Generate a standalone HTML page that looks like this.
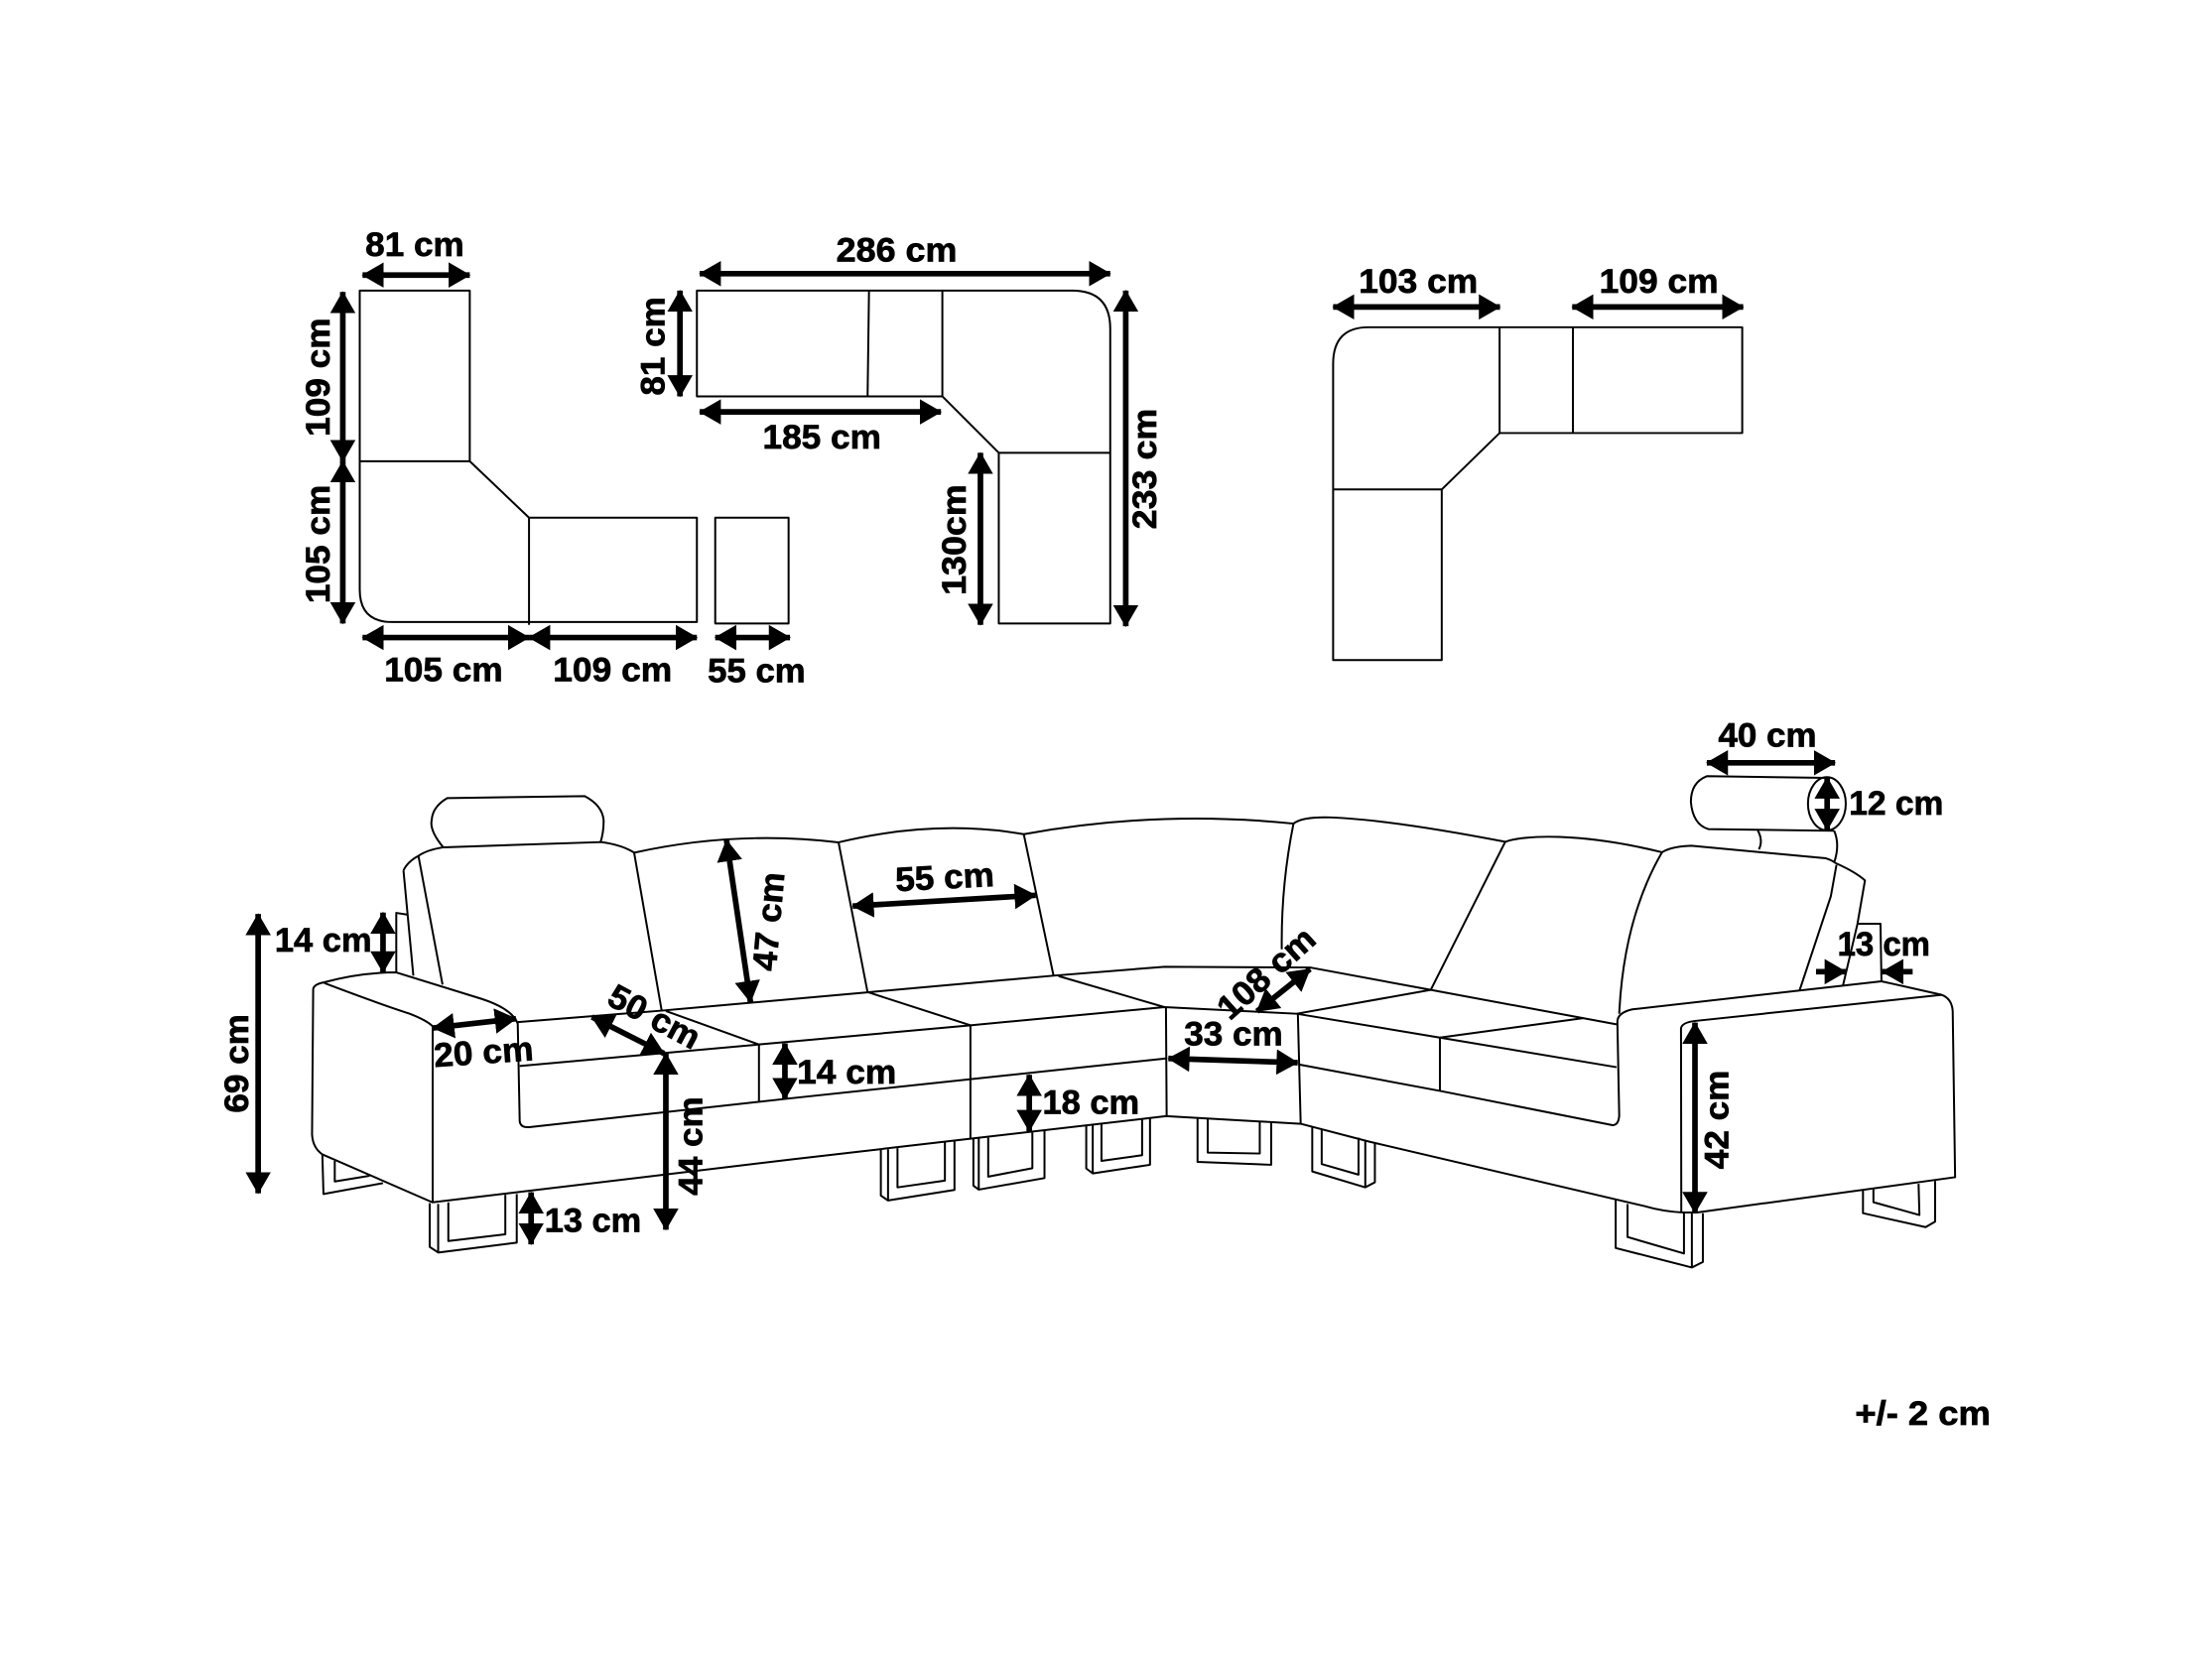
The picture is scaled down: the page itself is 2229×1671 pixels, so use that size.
<!DOCTYPE html>
<html><head><meta charset="utf-8"><style>
html,body{margin:0;padding:0;background:#fff}
svg{display:block}
.l path,.l polyline,.l line,.l ellipse{fill:none;stroke:#000;stroke-width:1.4;stroke-linejoin:round}
.a line{stroke:#000;stroke-width:4;marker-start:url(#h);marker-end:url(#h)}
.a line.o{marker-start:none}
text{font-family:"Liberation Sans",sans-serif;font-weight:bold;font-size:24px;fill:#000;stroke:#000;stroke-width:.5}
</style></head><body>
<svg xmlns="http://www.w3.org/2000/svg" width="2229" height="1671" viewBox="0 0 1568 1175.45">
<defs><marker id="h" markerUnits="userSpaceOnUse" markerWidth="17" markerHeight="19" refX="15" refY="9.5" orient="auto-start-reverse"><path d="M0,0.5 L15.6,9.5 L0,18.5 Z" fill="#000"/></marker></defs>
<rect width="1568" height="1176" fill="#fff"/>
<g class="l">
<!-- plan 1 -->
<path d="M255,206 H333 V327 L375,367 H494 V441 H278 Q255,441 255,418 Z"/>
<path d="M255,327 H333 M375,367 V443"/>
<path d="M507,367 H559 V442 H507 Z"/>
<!-- plan 2 -->
<path d="M494,206 H760 Q787,206 787,233 V442 H708 V321 L668,281 H494 Z"/>
<path d="M616,206 L615,281 M668,206 V281 M708,321 H787"/>
<!-- plan 3 -->
<path d="M945,468 V258 Q945,232 970,232 H1235 V307 H1063 L1022,347 V468 Z"/>
<path d="M945,347 H1022 M1063,232 V307 M1115,232 V307"/>
<!-- left headrest -->
<path d="M314.2,600.7 C307,592 305,586 306,581.5 Q306.5,572 317,565.8 L414.5,564.4 Q427,571 427.9,581.5 Q428,590 425.6,597.4"/>
<!-- backs -->
<path d="M286,617.1 Q289,610.8 296.6,606.8 Q302.5,602.6 314.2,600.7 L426.3,597 Q441,599 449.5,604.5"/>
<path d="M286,617.1 L293,691.7 M296.6,606.8 L313.7,698 M449.5,604.5 L469,716.3"/>
<path d="M280.9,689.4 V647.2 L288.5,648.4"/>
<path d="M449.5,604.5 Q522,588.5 594.4,597.2 Q663.4,580.6 725.7,591.4 L746.8,691.7"/>
<path d="M594.4,597.2 L615,703.5"/>
<path d="M725.7,591.4 Q821,574 916.9,583.9 Q908,628 908.6,673"/>
<path d="M916.9,583.9 Q923,579 942.6,579.5 Q985,581 1067,596.8 C1080,592 1120,590 1178.2,604.2"/>
<path d="M1067,596.8 L1014.2,701.8"/>
<path d="M1178.2,604.2 Q1185,600 1199,599.6 L1294.3,608.5 Q1298,609.5 1301.4,612 Q1315.5,618.3 1322,624.2 L1316.6,655.4 L1306.5,698.3"/>
<path d="M1301.8,613.2 L1297.8,635.4 L1275.6,702.3"/>
<path d="M1178.2,604.2 Q1151,651 1147.8,718.7"/>
<path d="M1317.3,654.9 H1333 L1333.7,695.7"/>
<!-- right headrest -->
<path d="M1295.5,551.5 L1209.9,550.3 Q1198.6,554.6 1198.6,568.6 Q1200,584.5 1211,587.8 L1300.2,589"/>
<ellipse cx="1295" cy="569.8" rx="13.4" ry="18.8"/>
<path d="M1246,588.7 Q1250,596 1246.8,602.2 M1300.2,589 Q1304.4,599 1300.2,611.3"/>
<!-- left arm -->
<path d="M222,701 Q223,697.6 229.8,696.4 Q255.4,689.4 280.9,689.4 L341.5,708.2 Q363,715.2 367,725.7 L368.4,795 Q369,799.6 375.2,799.1 L562.7,778.4 L826.6,750.4"/>
<path d="M222,701 L221.2,804.3 Q221.7,813.7 228.5,818.4 L306.5,852.4 L562.7,821.8 L687.9,807.3 L826.5,791.3 L922,796.7 L970.7,809.4 L1165.4,855 Q1179,859 1193.2,859.6 H1202.9 L1385.9,834.6 L1384.2,717 Q1383.7,708 1376.4,705.3 L1333.7,695.7 L1157.1,715.6 Q1146.5,718 1146.5,724.5 L1147.8,791 Q1147.3,797.7 1143.1,797.7 L1020.7,773.4 L920.4,754.6"/>
<path d="M229.8,696.9 Q268.8,711.7 290.4,718.7 Q302.5,723.4 306.7,727.6 V852.4"/>
<!-- seats -->
<path d="M367,724.6 L469,716.5 L615,703.5 L746.8,691.7 L825.4,685.4 L928.6,685.9 L1014.2,701.8 L1145.9,726.2"/>
<path d="M472,716.8 L538,740.5 M368.4,755.8 L538,740.5 L687.9,726.9 L825.4,714 L919.2,718.7 L1020.7,735.6 L1145.9,756.6"/>
<path d="M615.2,703.4 L687.9,726.9 M750.4,692 L825.4,714"/>
<path d="M538,740.5 V780.9 M687.9,727 V807.3 M826.5,714.2 L827,791.3 M920,718.6 L922,796.7 M1020.7,735.6 V773.4"/>
<path d="M919.2,718.7 L1014.2,701.8 M1020.7,735.6 L1122.3,721.8"/>
<!-- right arm front -->
<path d="M1376.4,705.3 L1201.7,723.8 Q1192,724.9 1191.6,729.2 L1191.8,859.6"/>
<!-- legs -->
<path d="M304.6,853 V884 L310.6,888 L366.3,881 V846.5 M310.6,853.5 V888 M317.8,852.4 V879.8 L358.2,875.1 V847"/>
<path d="M228.5,818.4 L229.3,846.5 L271.5,838.8 M237.3,823 V837.6 L262,833.6"/>
<path d="M624.4,815 V847.6 L629.5,851.1 L676.6,843.6 V808.9 M629.5,814.8 V851.1 M636.2,814 V841.8 L669.8,837 V810"/>
<path d="M690,807 V840.6 L693.8,843.4 L740.4,835.2 V801.9 M693.8,807 V843.4 M700.5,806.6 V834.2 L731.8,828.2 V803"/>
<path d="M770,797.7 V828.4 L774.6,831.9 L815.2,825.8 V793 M774.6,797.2 V831.9 M780.8,796.5 V823 L809.6,819 V793.7"/>
<path d="M848.9,792.5 V823.7 L901.1,825.8 V795.3 M856.1,793 V817.1 L893,817.8 V794.9"/>
<path d="M930.2,798.8 V830.5 L967.8,841.8 L974.6,838.2 V810 M967.8,808.9 V841.8 M936.9,800.7 V825.3 L963,832.8 V806.6"/>
<path d="M1145.3,850.2 V884.8 L1199.3,898.6 L1207.1,894.7 V860.1 M1199.3,860.1 V898.6 M1153.7,853.6 V877 L1193.7,888.7 V859.6"/>
<path d="M1320.6,843.2 V860.1 L1365,870 L1371.7,866.1 V837.2 M1328,843.2 V852.3 L1360.6,861.4 L1360,839.3"/>
</g>
<g class="a">
<line x1="257" y1="195" x2="333" y2="195"/>
<line x1="243" y1="207" x2="243" y2="327"/>
<line x1="243" y1="327" x2="243" y2="442"/>
<line x1="257" y1="452" x2="375" y2="452"/>
<line x1="375" y1="452" x2="494" y2="452"/>
<line x1="507" y1="452" x2="560" y2="452"/>
<line x1="496" y1="194" x2="787" y2="194"/>
<line x1="482" y1="206" x2="482" y2="281"/>
<line x1="496" y1="292" x2="667" y2="292"/>
<line x1="798" y1="206" x2="798" y2="444"/>
<line x1="695" y1="321" x2="695" y2="443"/>
<line x1="945" y1="217.6" x2="1063.3" y2="217.6"/>
<line x1="1114.5" y1="217.6" x2="1235.7" y2="217.6"/>
<line x1="183" y1="648" x2="183" y2="846"/>
<line x1="271.5" y1="647" x2="271.5" y2="689.4"/>
<line x1="307" y1="728.8" x2="365.8" y2="722.2"/>
<line x1="419.6" y1="721" x2="470.7" y2="746.9"/>
<line x1="472" y1="746.9" x2="472" y2="871.8"/>
<line x1="515" y1="595.6" x2="532" y2="710.5"/>
<line x1="376.5" y1="845.3" x2="376.5" y2="882.2"/>
<line x1="556.4" y1="739.8" x2="556.4" y2="779.2"/>
<line x1="729.6" y1="762" x2="729.6" y2="801.9"/>
<line x1="604.4" y1="642.4" x2="734.2" y2="634.7"/>
<line x1="828.2" y1="750.4" x2="919.9" y2="753.4"/>
<line x1="891" y1="717" x2="928.6" y2="687"/>
<line x1="1201.5" y1="725" x2="1201.5" y2="860"/>
<line x1="1209.9" y1="540.8" x2="1300.8" y2="540.8"/>
<line x1="1295.2" y1="551.2" x2="1295.2" y2="588.4"/>
<line class="o" x1="1287.3" y1="688.9" x2="1308.4" y2="688.9"/>
<line class="o" x1="1355.8" y1="688.9" x2="1334.2" y2="688.9"/>
</g>
<g>
<text x="259" y="181.5" textLength="70" lengthAdjust="spacingAndGlyphs">81 cm</text>
<text transform="translate(233.5,267.4) rotate(-90)" x="-42" textLength="84" lengthAdjust="spacingAndGlyphs">109 cm</text>
<text transform="translate(233.5,385.8) rotate(-90)" x="-42" textLength="84" lengthAdjust="spacingAndGlyphs">105 cm</text>
<text x="272.4" y="483" textLength="84" lengthAdjust="spacingAndGlyphs">105 cm</text>
<text x="392" y="483" textLength="84.4" lengthAdjust="spacingAndGlyphs">109 cm</text>
<text x="501.7" y="483.5" textLength="69.3" lengthAdjust="spacingAndGlyphs">55 cm</text>
<text x="592.8" y="185.3" textLength="85.6" lengthAdjust="spacingAndGlyphs">286 cm</text>
<text transform="translate(471,245.4) rotate(-90)" x="-35" textLength="70" lengthAdjust="spacingAndGlyphs">81 cm</text>
<text x="540.6" y="317.8" textLength="84" lengthAdjust="spacingAndGlyphs">185 cm</text>
<text transform="translate(819.7,332.4) rotate(-90)" x="-42.8" textLength="85.6" lengthAdjust="spacingAndGlyphs">233 cm</text>
<text transform="translate(684.3,382.8) rotate(-90)" x="-39.2" textLength="78.5" lengthAdjust="spacingAndGlyphs">130cm</text>
<text x="963.2" y="207.6" textLength="84.4" lengthAdjust="spacingAndGlyphs">103 cm</text>
<text x="1133.7" y="207.6" textLength="84.4" lengthAdjust="spacingAndGlyphs">109 cm</text>
<text transform="translate(176,754) rotate(-90)" x="-35" textLength="70" lengthAdjust="spacingAndGlyphs">69 cm</text>
<text x="194.8" y="674.5" textLength="68.7" lengthAdjust="spacingAndGlyphs">14 cm</text>
<text transform="translate(343.3,754) rotate(-4)" x="-35.3" textLength="70.6" lengthAdjust="spacingAndGlyphs">20 cm</text>
<text transform="translate(460,728) rotate(28)" x="-35" textLength="70" lengthAdjust="spacingAndGlyphs">50 cm</text>
<text transform="translate(497.7,812.5) rotate(-90)" x="-35" textLength="70" lengthAdjust="spacingAndGlyphs">44 cm</text>
<text transform="translate(553,654) rotate(-85)" x="-35" textLength="70" lengthAdjust="spacingAndGlyphs">47 cm</text>
<text x="386" y="873.5" textLength="68.6" lengthAdjust="spacingAndGlyphs">13 cm</text>
<text x="565" y="768" textLength="70.4" lengthAdjust="spacingAndGlyphs">14 cm</text>
<text x="739" y="789.7" textLength="68.7" lengthAdjust="spacingAndGlyphs">18 cm</text>
<text transform="translate(670.1,630) rotate(-3)" x="-35" textLength="70" lengthAdjust="spacingAndGlyphs">55 cm</text>
<text x="839.4" y="741" textLength="70" lengthAdjust="spacingAndGlyphs">33 cm</text>
<text transform="translate(903,696) rotate(-42)" x="-42" textLength="84" lengthAdjust="spacingAndGlyphs">108 cm</text>
<text transform="translate(1225,793.8) rotate(-90)" x="-35" textLength="70" lengthAdjust="spacingAndGlyphs">42 cm</text>
<text x="1218" y="529.4" textLength="69.7" lengthAdjust="spacingAndGlyphs">40 cm</text>
<text x="1310.7" y="577.5" textLength="66.9" lengthAdjust="spacingAndGlyphs">12 cm</text>
<text x="1302.5" y="677.5" textLength="65.7" lengthAdjust="spacingAndGlyphs">13 cm</text>
<text x="1315" y="1010" textLength="96" lengthAdjust="spacingAndGlyphs">+/- 2 cm</text>
</g>
</svg>
</body></html>
